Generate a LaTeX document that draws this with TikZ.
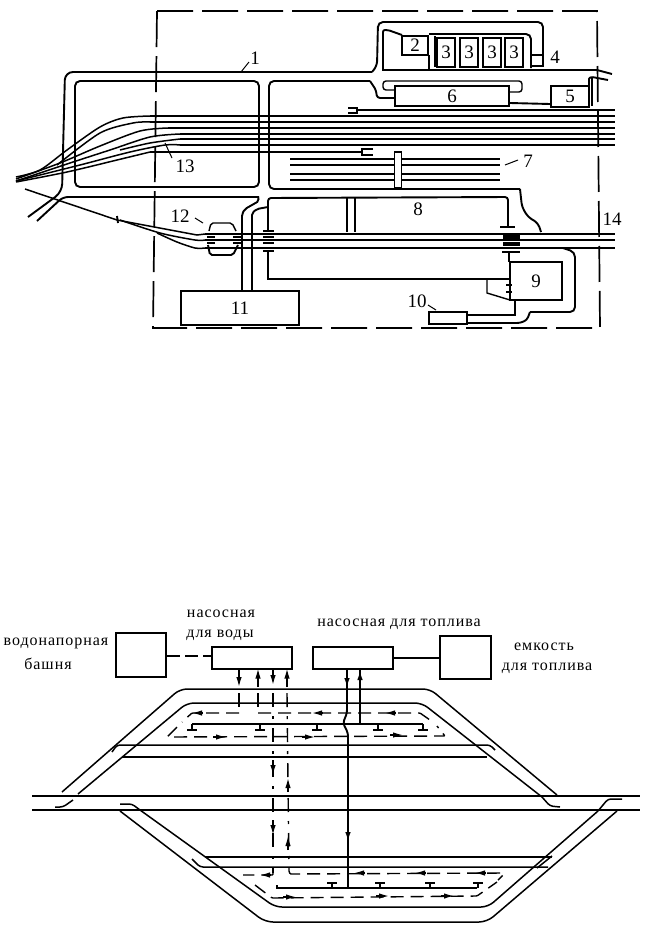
\documentclass[tikz,border=0pt]{standalone}
\usepackage{fontspec}
\setmainfont{Liberation Serif}
\newfontfamily\wordfont[LetterSpace=6]{Liberation Serif}
\usetikzlibrary{arrows.meta}
\tikzset{
  plantbox/.style={draw,line width=2pt,inner sep=0pt,font=\fontsize{19}{19}\selectfont},
  rail/.style={line width=1.9pt,rounded corners=3pt},
  thinrail/.style={line width=1.4pt,rounded corners=3pt},
  fanrail/.style={line width=1.5pt},
  lowrail/.style={line width=1.5pt,rounded corners=3pt},
  border/.style={line width=1.7pt,dash pattern=on 36pt off 9pt},
  numlabel/.style={font=\fontsize{19}{19}\selectfont,inner sep=0pt},
  wordlabel/.style={font=\fontsize{16}{16}\selectfont\wordfont,inner sep=0pt},
  dashflow/.style={line width=1.4pt,rounded corners=1pt,dash pattern=on 13pt off 7pt},
  dotflow/.style={line width=1.4pt,dash pattern=on 14pt off 9pt on 3pt off 9pt},
  fuelpipe/.style={line width=1.9pt},
  flowtip/.style={line width=1.4pt,-{Latex[length=10pt,width=5.5pt]}},
  stub/.style={line width=1.4pt}
}
\begin{document}
\begin{tikzpicture}[x=1pt,y=-1pt]
  \useasboundingbox (0,0) rectangle (647,930);
  % station plan
  \draw[border] (157,11) -- (597,11) -- (600,328) -- (153,328) -- cycle;
  \node[plantbox,fill=white,minimum width=118pt,minimum height=34pt] (box11) at (240,308) {11};
  \node[plantbox,minimum width=26pt,minimum height=19pt] (box2) at (415,45) {2};
  \node[plantbox,minimum width=18pt,minimum height=29pt] (box3a) at (446,52) {3};
  \node[plantbox,minimum width=18pt,minimum height=29pt] (box3b) at (469,52) {3};
  \node[plantbox,minimum width=18pt,minimum height=29pt] (box3c) at (492,52) {3};
  \node[plantbox,minimum width=18pt,minimum height=29pt] (box3d) at (514,52) {3};
  \node[plantbox,minimum width=12pt,minimum height=11pt] (box4) at (537,60) {};
  \node[plantbox,minimum width=38pt,minimum height=21pt] (box5) at (570,96) {5};
  \node[plantbox,minimum width=114pt,minimum height=20pt] (box6) at (452,96) {6};
  \node[plantbox,minimum width=52pt,minimum height=38pt] (box9) at (536,281) {9};
  \node[plantbox,minimum width=38pt,minimum height=12pt] (box10) at (448,318) {};
  % ring roads
  \draw[rail,rounded corners=8pt] (28,217) -- (62,192) -- (65,72) -- (372,72);
  \draw[rail,rounded corners=5pt] (372,72) -- (377,66) -- (378,22) -- (543,22) -- (543,54);
  \draw[rail,rounded corners=5pt] (75,81) rectangle (259,187);
  \draw[rail,rounded corners=5pt] (37,221) -- (63,197) -- (259,197);
  \draw[rail,rounded corners=2pt] (258,197) -- (259,201) -- (245,209) -- (242,214) -- (242,291);
  \draw[rail,rounded corners=2pt] (252,291) -- (252,213) -- (257,209) -- (268,207);
  \draw[rail] (268,207) -- (268,198) -- (508,197) -- (508,227);
  \draw[rail,rounded corners=5pt] (370,81) -- (269,81) -- (269,189) -- (520,189);
  \draw[rail,rounded corners=4pt] (520,189) -- (522,207) -- (528,217) -- (538,223) -- (541,232);
  \draw[rail] (370,81) -- (376,90) -- (377,98) -- (box6.west |- 0,98);
  \draw[rail,rounded corners=1pt] (382,70) -- (597,70) -- (612,74);
  \draw[rail,rounded corners=2pt] (383,70) -- (383,30) -- (388,30) -- (402,35);
  \draw[rail,rounded corners=5pt] (429,34) -- (531,34) -- (531,68);
  \draw[rail] (429,55) -- (429,70);
  \draw[rail] (435,36) -- (435,67);
  \draw[thinrail] (395,90) -- (383,90) -- (383,81) -- (522,81) -- (522,92) -- (509,92);
  \draw[rail] (box6.east |- 0,103) -- (box5.west |- 0,104);
  \draw[rail,rounded corners=1pt] (589,106) -- (589,78) -- (592,77) -- (608,80);
  \draw[rail] (592,78) -- (592,106);
  % sorting tracks and fan
  \foreach \xa/\y in {150/116,150/122,168/128,180/134,180/139,180/145}
    \draw[line width=1.9pt] (\xa,\y) -- (615,\y);
  \draw[line width=1.9pt] (357,110) -- (615,110);
  \draw[line width=1.9pt] (150,152) -- (362,152);
  \draw[line width=1.4pt] (348,108) -- (357,108) -- (357,113) -- (348,113);
  \draw[line width=1.4pt] (373,149) -- (362,149) -- (362,155) -- (373,155);
  \foreach \y/\w in {159/1.7,165/1.7,174/2.4,180/2.4}
    \draw[line width=\w pt] (290,\y) -- (500,\y);
  \node[draw,fill=white,line width=1.7pt,inner sep=0pt,minimum width=7pt,minimum height=36pt] (track7bar) at (398,170) {};
  \draw[fanrail] plot[smooth] coordinates {(16,177) (40,170) (67,150) (100,127) (123,118) (150,116)};
  \draw[fanrail] plot[smooth] coordinates {(57,165) (100,133) (133,123) (150,122)};
  \draw[fanrail] plot[smooth] coordinates {(16,179) (60,163) (100,146) (140,131) (168,128)};
  \draw[fanrail] plot[smooth] coordinates {(16,181) (70,163) (110,150) (150,137) (180,134)};
  \draw[fanrail] plot[smooth] coordinates {(120,150) (150,143) (180,139)};
  \draw[fanrail] plot[smooth] coordinates {(16,181) (80,165) (130,152) (165,145) (180,145)};
  \draw[fanrail] plot[smooth] coordinates {(16,182) (67,172) (117,160) (150,152)};
  % running lines
  \foreach \y in {234,240,248}
    \draw[line width=1.9pt] (205,\y) -- (615,\y);
  \draw[fanrail] (25,189) -- (117,220) -- (197,235) -- (205,234);
  \draw[fanrail] plot[smooth] coordinates {(120,220) (160,233) (195,240) (205,240)};
  \draw[fanrail] plot[smooth] coordinates {(157,233) (177,242) (195,248) (205,248)};
  \draw[line width=1.9pt] (117,216) -- (118,223);
  \draw[thinrail,rounded corners=2pt] (209,231) -- (211,223) -- (232,223) -- (236,231);
  \draw[rail,rounded corners=2pt] (208,245) -- (210,255) -- (233,255) -- (238,245);
  \foreach \x in {207,233} {
    \draw[line width=1.7pt] (\x,237) -- (\x+8,237);
    \draw[line width=1.7pt] (\x,243) -- (\x+8,243);
  }
  \foreach \y in {231,237,243,251}
    \draw[line width=1.7pt] (263,\y) -- (274,\y);
  \draw[rail] (268,207) -- (268,231);
  \draw[rail,rounded corners=0pt] (268,251) -- (268,279) -- (box9.west |- 0,279);
  \draw[rail] (347,198) -- (347,232);
  \draw[rail] (355,198) -- (355,232);
  \draw[rail,rounded corners=0pt] (500,227) -- (515,227);
  \draw[rail,rounded corners=0pt] (502,252) -- (520,252);
  \draw[rail,rounded corners=0pt] (509,252) -- (509,262);
  \foreach \y in {236,238,243,245}
    \draw[line width=1.5pt] (503,\y) -- (520,\y);
  \draw[rail,rounded corners=5pt] (563,248) -- (575,252) -- (575,312) -- (530,312);
  \draw[rail,rounded corners=3pt] (530,312) -- (527,320) -- (520,323) -- (box10.east |- 0,323);
  \draw[rail,rounded corners=0pt] (box10.east |- 0,315) -- (515,315) -- (515,300);
  \draw[thinrail,rounded corners=0pt] (487,279) -- (487,293) -- (510,300);
  \draw[line width=1.4pt] (506,285) -- (512,285) (506,292) -- (512,292);
  % leaders
  \node[numlabel] (lab1) at (255,58) {1};
  \draw[line width=1pt] (249,62) -- (241,72);
  \node[numlabel] (lab13) at (185,166) {13};
  \draw[line width=1pt] (165,143) -- (172,158);
  \node[numlabel] (lab12) at (180,216) {12};
  \draw[line width=1pt] (195,218) -- (203,223);
  \node[numlabel] (lab4) at (555,57) {4};
  \node[numlabel] (lab7) at (528,161) {7};
  \draw[line width=1pt] (505,165) -- (518,160);
  \node[numlabel] (lab8) at (418,209) {8};
  \node[numlabel] (lab10) at (417,301) {10};
  \draw[line width=1pt] (428,305) -- (436,310);
  \node[numlabel] (lab14) at (612,219) {14};
  % fuelling layout
  \node[plantbox,minimum width=50pt,minimum height=44pt] (tower) at (141,655) {};
  \node[plantbox,minimum width=80pt,minimum height=22pt] (waterpump) at (252,657.5) {};
  \node[plantbox,minimum width=80pt,minimum height=22pt] (fuelpump) at (353,657.5) {};
  \node[plantbox,minimum width=51pt,minimum height=43pt] (tank) at (465.5,657) {};
  \draw[line width=1.5pt,dash pattern=on 13pt off 5pt] (tower.east |- 0,656) -- (waterpump.west |- 0,656);
  \draw[line width=1.5pt] (fuelpump.east |- 0,658) -- (tank.west |- 0,658);
  \node[wordlabel] (labtower) at (56,643) {водонапорная};
  \node[wordlabel] (labtowerb) at (48,664) {башня};
  \node[wordlabel] (labwater) at (221,614) {насосная};
  \node[wordlabel] (labwaterb) at (220,635) {для воды};
  \node[wordlabel] (labfuel) at (399,624) {насосная для топлива};
  \node[wordlabel] (labtank) at (544,647) {емкость};
  \node[wordlabel] (labtankb) at (547,668) {для топлива};
  % main tracks
  \foreach \y in {796,810}
    \draw[line width=1.9pt] (32,\y) -- (640,\y);
  \draw[lowrail,rounded corners=7pt] (62,792) -- (180,689) -- (430,689) -- (557,795);
  \draw[lowrail,rounded corners=7pt] (78,794) -- (187,703) -- (422,703) -- (542,797);
  \draw[lowrail] (542,797) -- (550,806) -- (560,807);
  \draw[lowrail] (55,807) -- (63,807) -- (73,800);
  \draw[lowrail,rounded corners=8pt] (120,811) -- (265,922) -- (487,922) -- (617,811);
  \draw[lowrail,rounded corners=7pt] (140,810) -- (275,907) -- (488,907) -- (598,811);
  \draw[lowrail] (120,804) -- (132,804) -- (140,810);
  \draw[lowrail] (598,811) -- (608,799) -- (622,799);
  \draw[lowrail] (112,752) -- (117,745) -- (490,745) -- (495,750);
  \draw[lowrail] (122,757) -- (487,757);
  \draw[lowrail] (205,857) -- (552,857);
  \draw[lowrail] (192,859) -- (200,867) -- (548,867);
  \draw[lowrail] (537,868) -- (552,856);
  % upper stand
  \draw[fuelpipe] (192,724) -- (423,724);
  \draw[dashflow] (239,713) -- (192,713) -- (182,722);
  \draw[dashflow] (258,713) -- (420,713) -- (430,720);
  \draw[dashflow] (177,727) -- (167,737) -- (445,736) -- (437,726);
  \foreach \x in {192,260,317,378,423}
    \draw[stub] (\x,724) -- (\x,730) (\x-5,730) -- (\x+5,730);
  \foreach \x/\y in {192/713,312/713,385/713}
    \draw[flowtip] (\x+11,\y) -- (\x,\y);
  \foreach \x/\y in {213/737,302/737,390/735}
    \draw[flowtip] (\x,\y) -- (\x+13,\y);
  % lower stand
  \draw[fuelpipe] (277,885) -- (277,888) -- (477,888);
  \draw[dashflow] (273,873) -- (273,875) -- (243,875);
  \draw[dashflow] (289,871) -- (290,874) -- (505,873) -- (498,880);
  \draw[dashflow] (255,885) -- (272,898) -- (477,896) -- (497,882);
  \foreach \x in {332,380,430,478}
    \draw[stub] (\x,888) -- (\x,883) (\x-5,883) -- (\x+5,883);
  \foreach \x/\y in {260/875,354/873,415/873,475/873}
    \draw[flowtip] (\x+11,\y) -- (\x,\y);
  \foreach \x/\y in {283/897,376/896,441/896}
    \draw[flowtip] (\x,\y) -- (\x+13,\y);
  % pipes
  \coordinate (w1) at (239,668.5);
  \coordinate (w2) at (258,668.5);
  \coordinate (w3) at (273,668.5);
  \coordinate (w4) at (287,668.5);
  \coordinate (w3end) at (273,873);
  \coordinate (w4end) at (289,871);
  \draw[dotflow] (239,693) -- (239,713);
  \draw[dotflow] (258,693) -- (258,713);
  \draw[dotflow] (273,693) -- (w3end);
  \draw[dotflow] (287,693) -- (w4end);
  \draw[flowtip] (w1) -- (239,687);
  \draw[flowtip] (258,687) -- (w2);
  \draw[flowtip] (w3) -- (273,685);
  \draw[flowtip] (287,687) -- (w4);
  \draw[flowtip] (273,760) -- (273,775);
  \draw[flowtip] (288,792) -- (288,778);
  \draw[flowtip] (273,820) -- (273,835);
  \draw[flowtip] (288,850) -- (288,836);
  \coordinate (f1) at (347,668.5);
  \coordinate (f2) at (360,668.5);
  \draw[fuelpipe,rounded corners=3pt] (f1) -- (347,713) -- (343,723) -- (348,733) -- (348,888);
  \draw[fuelpipe] (f2) -- (360,724);
  \draw[flowtip,line width=1.9pt] (347,670) -- (347,688);
  \draw[flowtip,line width=1.9pt] (360,688) -- (360,670);
  \draw[flowtip,line width=1.9pt] (348,822) -- (348,842);
\end{tikzpicture}
\end{document}
